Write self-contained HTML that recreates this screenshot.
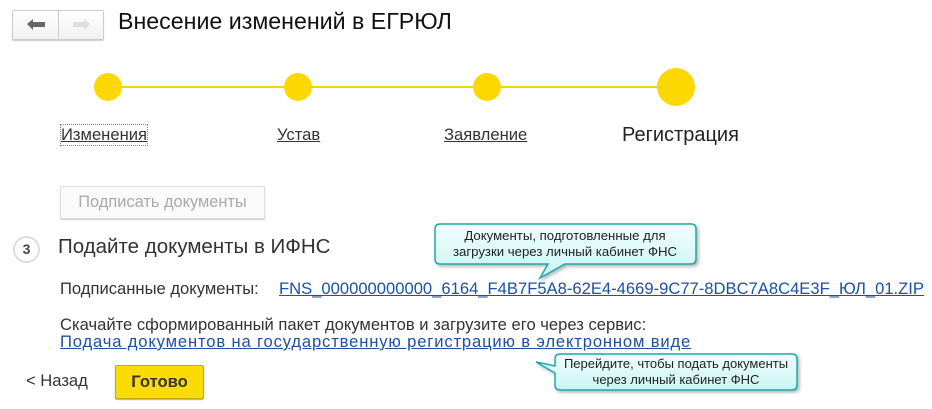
<!DOCTYPE html>
<html><head><meta charset="utf-8"><style>
body{margin:0;width:932px;height:409px;background:#fff;font-family:"Liberation Sans",Arial,sans-serif;position:relative;overflow:hidden;color:#333}
.a{position:absolute;white-space:nowrap}
.lnk{color:#1f4fa0;text-decoration:underline}
.dot{position:absolute;border-radius:50%;background:#fdd800}
</style></head><body>
<div class="a" style="left:12px;top:10px;width:90px;height:28px;border:1px solid #ccc;border-radius:2px;background:linear-gradient(#fff,#f0f0f0);box-shadow:0 1px 1px #ccc"></div>
<div class="a" style="left:58px;top:11px;width:1px;height:27px;background:#ccc"></div>
<svg class="a" style="left:12px;top:10px" width="92" height="30">
<path d="M15 14 L21 9 V12 H33 V17 H21 V20 Z" fill="#666"/>
<path d="M78 14 L72 9 V12 H61 V17 H72 V20 Z" fill="#ddd"/>
</svg>
<div class="a" style="left:118px;top:8px;font-size:23.2px;color:#111">Внесение изменений в ЕГРЮЛ</div>

<div class="a" style="left:108px;top:86px;width:568px;height:2px;background:#f5d400"></div>
<div class="dot" style="left:94px;top:73px;width:28px;height:28px"></div>
<div class="dot" style="left:284px;top:73px;width:28px;height:28px"></div>
<div class="dot" style="left:473px;top:73px;width:28px;height:28px"></div>
<div class="dot" style="left:657px;top:68px;width:38px;height:38px"></div>

<div class="a" style="left:61px;top:125px;font-size:16.6px;color:#333;text-decoration:underline;outline:1px dotted #888">Изменения</div>
<div class="a" style="left:277px;top:125px;font-size:16.6px;color:#333;text-decoration:underline">Устав</div>
<div class="a" style="left:444px;top:125px;font-size:16.6px;color:#333;text-decoration:underline">Заявление</div>
<div class="a" style="left:622px;top:124px;font-size:20px;color:#222">Регистрация</div>

<div class="a" style="left:60px;top:186px;width:203px;height:31px;border:1px solid #ddd;border-radius:2px;background:#fafafa;box-shadow:0 1px 1px #ccc;font-size:16.4px;color:#aaa;text-align:center;line-height:31px">Подписать документы</div>

<div class="a" style="left:13px;top:236px;width:23px;height:23px;border:2px solid #ddd;border-radius:50%;font-size:14px;font-weight:bold;color:#444;text-align:center;line-height:23px">3</div>
<div class="a" style="left:58px;top:235px;font-size:20.5px;color:#333">Подайте документы в ИФНС</div>

<div class="a" style="left:60px;top:279px;font-size:16.6px">Подписанные документы:</div>
<div class="a lnk" style="left:279px;top:279px;font-size:16.6px">FNS_000000000000_6164_F4B7F5A8-62E4-4669-9C77-8DBC7A8C4E3F_ЮЛ_01.ZIP</div>
<div class="a" style="left:60px;top:315px;font-size:16.6px">Скачайте сформированный пакет документов и загрузите его через сервис:</div>
<div class="a lnk" style="left:60px;top:332px;font-size:16.6px;letter-spacing:0.85px">Подача документов на государственную регистрацию в электронном виде</div>

<div class="a" style="left:26px;top:371px;font-size:16.6px">&lt; Назад</div>
<div class="a" style="left:115px;top:365px;width:87px;height:32px;border:1px solid #c9a800;border-radius:2px;background:#fadc00;box-shadow:0 1px 1px #aaa;font-size:16.6px;font-weight:bold;color:#333;text-align:center;line-height:32px">Готово</div>

<svg class="a" style="left:0;top:0" width="932" height="409">
<defs><linearGradient id="g" x1="0" y1="0" x2="0" y2="1"><stop offset="0" stop-color="#f2fefe"/><stop offset="1" stop-color="#c8f4f4"/></linearGradient>
<filter id="s"><feDropShadow dx="2" dy="2" stdDeviation="1.5" flood-color="#888" flood-opacity="0.6"/></filter></defs>
<path d="M440 224 H691 Q696 224 696 229 V259 Q696 264 691 264 H565 L540 278 L548 264 H440 Q435 264 435 259 V229 Q435 224 440 224 Z" fill="url(#g)" stroke="#1aa9a9" stroke-width="1.5" filter="url(#s)"/>
<text x="565" y="240" font-size="13.2" fill="#222" text-anchor="middle" font-family="Liberation Sans,sans-serif">Документы, подготовленные для</text>
<text x="565" y="256" font-size="13.2" fill="#222" text-anchor="middle" font-family="Liberation Sans,sans-serif">загрузки через личный кабинет ФНС</text>
<path d="M560 354 H792 Q797 354 797 359 V385 Q797 390 792 390 H560 Q555 390 555 385 V373 L536 362 L555 366 V359 Q555 354 560 354 Z" fill="url(#g)" stroke="#1aa9a9" stroke-width="1.5" filter="url(#s)"/>
<text x="676" y="368" font-size="13" fill="#222" text-anchor="middle" font-family="Liberation Sans,sans-serif">Перейдите, чтобы подать документы</text>
<text x="676" y="384" font-size="13" fill="#222" text-anchor="middle" font-family="Liberation Sans,sans-serif">через личный кабинет ФНС</text>
</svg>
</body></html>
